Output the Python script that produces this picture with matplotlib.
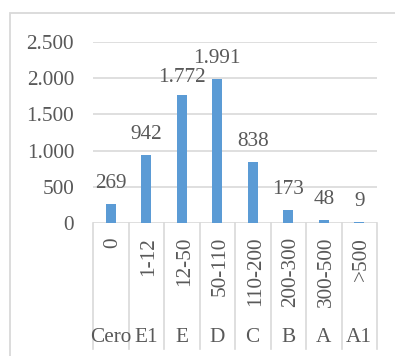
import matplotlib
matplotlib.use("Agg")
import matplotlib.pyplot as plt
from matplotlib.patches import Rectangle
from matplotlib.transforms import offset_copy

ranges = ["0", "1-12", "12-50", "50-110", "110-200", "200-300", "300-500", ">500"]
classes = ["Cero", "E1", "E", "D", "C", "B", "A", "A1"]
counts = [269, 942, 1772, 1991, 838, 173, 48, 9]
y_ticks = [0, 500, 1000, 1500, 2000, 2500]

TEXT = "#595959"
GRID = "#D9D9D9"
BAR = "#5B9BD5"

plt.rcParams["font.family"] = ["Liberation Serif", "DejaVu Serif"]
plt.rcParams["font.size"] = 15.3

W, H = 395, 356
fig = plt.figure(figsize=(W / 100, H / 100), dpi=100)

# plot area in pixel terms: x 93..377, y 42..223 (from top)
x0, x1, ytop, ybot = 93, 377, 42, 223
ax = fig.add_axes([x0 / W, (H - ybot) / H, (x1 - x0) / W, (ybot - ytop) / H])

# chart border
fig.patches.append(Rectangle((10 / W, -0.1), 1.2, 1 - 13 / H + 0.1,
                             transform=fig.transFigure, fill=False,
                             edgecolor=GRID, linewidth=1.3))


def thousands(v):
    return f"{v:,}".replace(",", ".")


xs = range(len(counts))
ax.bar(xs, counts, width=0.28, color=BAR, zorder=3)

px = 72 / 100  # points per pixel
for i, v in enumerate(counts):
    gap = 12.5 if i == 2 else 16
    ax.annotate(thousands(v), (i, v), xytext=(0, gap * px), textcoords="offset points",
                ha="center", va="baseline", color=TEXT)

ax.set_xlim(-0.5, len(counts) - 0.5)
ax.set_ylim(0, 2500)
ax.set_yticks(y_ticks)
ax.set_yticklabels([thousands(t) for t in y_ticks])
ax.tick_params(axis="y", length=0, pad=19 * px, colors=TEXT)
ax.set_xticks([])
for s in ax.spines.values():
    s.set_visible(False)
for t in y_ticks:
    ax.axhline(t, color=GRID, linewidth=1.2, zorder=1)

# two-level category axis
plot_h = ybot - ytop
trans = ax.get_xaxis_transform()
# rotated text box includes the descent, nudge so the glyphs sit centred
rot_trans = offset_copy(trans, fig=fig, x=2.5, y=0, units="dots")
bottom = -(349 - ybot) / plot_h
for k in range(len(counts) + 1):
    ax.plot([k - 0.5, k - 0.5], [0, bottom], transform=trans, color=GRID,
            linewidth=1.2, clip_on=False)
for i, (r, c) in enumerate(zip(ranges, classes)):
    ax.text(i, -(237 - ybot) / plot_h, r, rotation=90, ha="center", va="top",
            transform=rot_trans, color=TEXT)
    ax.text(i, -(341.5 - ybot) / plot_h, c, ha="center", va="baseline",
            transform=trans, color=TEXT)

fig.savefig("out.png", dpi=100)
